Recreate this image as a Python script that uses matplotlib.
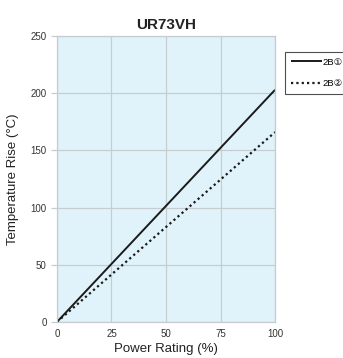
import matplotlib
matplotlib.use("Agg")
import matplotlib.pyplot as plt
import numpy as np

plt.rcParams['font.family'] = ['Liberation Sans', 'DejaVu Sans', 'Noto Sans CJK JP']

power = [0, 100]
series_1 = [0, 203]
series_2 = [0, 166]
labels = ["2B①", "2B②"]
xticks = [0, 25, 50, 75, 100]
yticks = [0, 50, 100, 150, 200, 250]

fig = plt.figure(figsize=(3.43, 3.58), dpi=100)
ax = fig.add_axes([0.166, 0.1006, 0.636, 0.7988])
ax.set_facecolor('#e1f3fa')
ax.plot(power, series_1, color='#1a1a1a', lw=1.4, label=labels[0], solid_capstyle='butt')
ax.plot(power, series_2, color='#1a1a1a', lw=1.6, ls=(0, (1, 1.4)), label=labels[1])
ax.set_xlim(0, 100)
ax.set_ylim(0, 250)
ax.set_xticks(xticks)
ax.set_yticks(yticks)
ax.grid(True, color='#c6ccd0', lw=0.9)
ax.set_axisbelow(True)
for s in ax.spines.values():
    s.set_color('#c6ccd0')
    s.set_linewidth(0.9)
ax.tick_params(axis='both', labelsize=7, colors='#c6ccd0', labelcolor='#333333', length=4, width=0.9)
ax.tick_params(axis='x', length=0, pad=5)
ax.set_title("UR73VH", fontsize=11, fontweight='bold', color='#222222', pad=5)
ax.set_xlabel("Power Rating (%)", fontsize=9.5, color='#222222', labelpad=3)
ax.set_ylabel("Temperature Rise (°C)", fontsize=9.5, color='#222222', labelpad=8)

leg = fig.legend(loc='upper left', bbox_to_anchor=(285/343, 1 - 52/358), fontsize=6.8,
                 frameon=True, fancybox=False, edgecolor='#222222', handlelength=3.3,
                 handletextpad=0.1, borderpad=0.6, labelspacing=1.35, borderaxespad=0)
leg.get_frame().set_linewidth(0.8)

fig.savefig("out.png", dpi=100)
